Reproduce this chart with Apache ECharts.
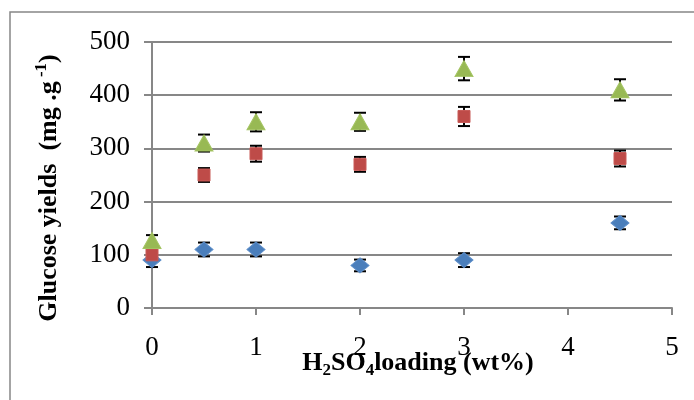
<!DOCTYPE html>
<html>
<head>
<meta charset="utf-8">
<script src="https://cdn.jsdelivr.net/npm/echarts@6/dist/echarts.min.js"></script>
<style>html,body{margin:0;padding:0;background:#fff}#c{width:694px;height:400px}</style>
</head>
<body>
<div id="c"></div>
<script>
// Data
var loading = [0, 0.5, 1, 2, 3, 4.5];
var blueVals = [90, 110, 110, 80, 90, 160];
var blueErr  = [13, 13, 13, 11, 13, 12];
var redVals  = [100, 250, 290, 270, 360, 281];
var redErr   = [10, 13, 15, 14, 18, 15];
var greenVals = [127, 310, 350, 350, 450, 410];
var greenErr  = [10, 16, 18, 17, 22, 20];
var xTicks = [0, 1, 2, 3, 4, 5];
var yTicks = [0, 100, 200, 300, 400, 500];

var FONT = '"Liberation Serif","Times New Roman",serif';
var GRAY = '#878787';

function pts(vals) { return loading.map(function (x, i) { return [x, vals[i]]; }); }
function errData(vals, errs) { return loading.map(function (x, i) { return [x, vals[i] - errs[i], vals[i] + errs[i]]; }); }

function errRender(params, api) {
  var x = api.value(0);
  var lo = api.coord([x, api.value(1)]);
  var hi = api.coord([x, api.value(2)]);
  var cap = 6;
  var st = { stroke: '#000', lineWidth: 2 };
  return {
    type: 'group',
    children: [
      { type: 'line', shape: { x1: lo[0], y1: lo[1], x2: hi[0], y2: hi[1] }, style: st },
      { type: 'line', shape: { x1: lo[0] - cap, y1: lo[1], x2: lo[0] + cap, y2: lo[1] }, style: st },
      { type: 'line', shape: { x1: hi[0] - cap, y1: hi[1], x2: hi[0] + cap, y2: hi[1] }, style: st }
    ]
  };
}

function errSeries(vals, errs) {
  return { type: 'custom', renderItem: errRender, data: errData(vals, errs), z: 1, silent: true, encode: { x: 0, y: [1, 2] } };
}

var chart = echarts.init(document.getElementById('c'), null, { renderer: 'canvas' });
chart.setOption({
  animation: false,
  backgroundColor: '#fff',
  grid: { left: 152, right: 22, top: 42, bottom: 92, containLabel: false },
  xAxis: {
    type: 'value', min: xTicks[0], max: xTicks[xTicks.length - 1], interval: 1,
    axisLine: { show: true, onZero: false, lineStyle: { color: GRAY, width: 2 } },
    axisTick: { show: true, inside: false, length: 7, lineStyle: { color: GRAY, width: 2 } },
    splitLine: { show: false },
    axisLabel: { color: '#000', fontFamily: FONT, fontSize: 27, margin: 26 }
  },
  yAxis: {
    type: 'value', min: yTicks[0], max: yTicks[yTicks.length - 1], interval: 100,
    axisLine: { show: true, lineStyle: { color: GRAY, width: 2 } },
    axisTick: { show: true, inside: false, length: 8, lineStyle: { color: GRAY, width: 2 } },
    splitLine: { show: true, lineStyle: { color: GRAY, width: 2 } },
    axisLabel: { color: '#000', fontFamily: FONT, fontSize: 27, margin: 22 }
  },
  graphic: [
    { type: 'rect', shape: { x: 10, y: 12, width: 720, height: 420 }, style: { fill: 'none', stroke: GRAY, lineWidth: 1.5 }, z: -10 },
    {
      type: 'text', x: 49, y: 188, rotation: Math.PI / 2, originX: 0, originY: 0,
      style: {
        text: 'Glucose yields  (mg .g{sup| -1})',
        fontFamily: FONT, fontSize: 26, fontWeight: 'bold', fill: '#000',
        align: 'center', verticalAlign: 'middle', lineHeight: 32,
        rich: { sup: { fontFamily: FONT, fontSize: 17, fontWeight: 'bold', verticalAlign: 'top', lineHeight: 17, color: '#000' } }
      }
    },
    {
      type: 'text', x: 418, y: 363,
      style: {
        text: 'H{sub|2}SO{sub|4}loading (wt%)',
        fontFamily: FONT, fontSize: 26, fontWeight: 'bold', fill: '#000',
        align: 'center', verticalAlign: 'middle', lineHeight: 32,
        rich: { sub: { fontFamily: FONT, fontSize: 17, fontWeight: 'bold', verticalAlign: 'bottom', lineHeight: 17, color: '#000' } }
      }
    }
  ],
  series: [
    errSeries(blueVals, blueErr),
    errSeries(redVals, redErr),
    errSeries(greenVals, greenErr),
    { name: 'A', type: 'scatter', data: pts(blueVals), symbol: 'diamond', symbolSize: [18, 15], z: 5,
      itemStyle: { color: '#4a7ebb', borderColor: '#5b8cc8', borderWidth: 1, opacity: 1 } },
    { name: 'B', type: 'scatter', data: pts(redVals), symbol: 'rect', symbolSize: [12, 12], z: 5,
      itemStyle: { color: '#be4b48', borderColor: '#c85a57', borderWidth: 1, opacity: 1 } },
    { name: 'C', type: 'scatter', data: pts(greenVals), symbol: 'triangle', symbolSize: [18, 16], z: 5,
      itemStyle: { color: '#98b954', borderColor: '#a4c462', borderWidth: 1, opacity: 1 } }
  ]
});
</script>
</body>
</html>
